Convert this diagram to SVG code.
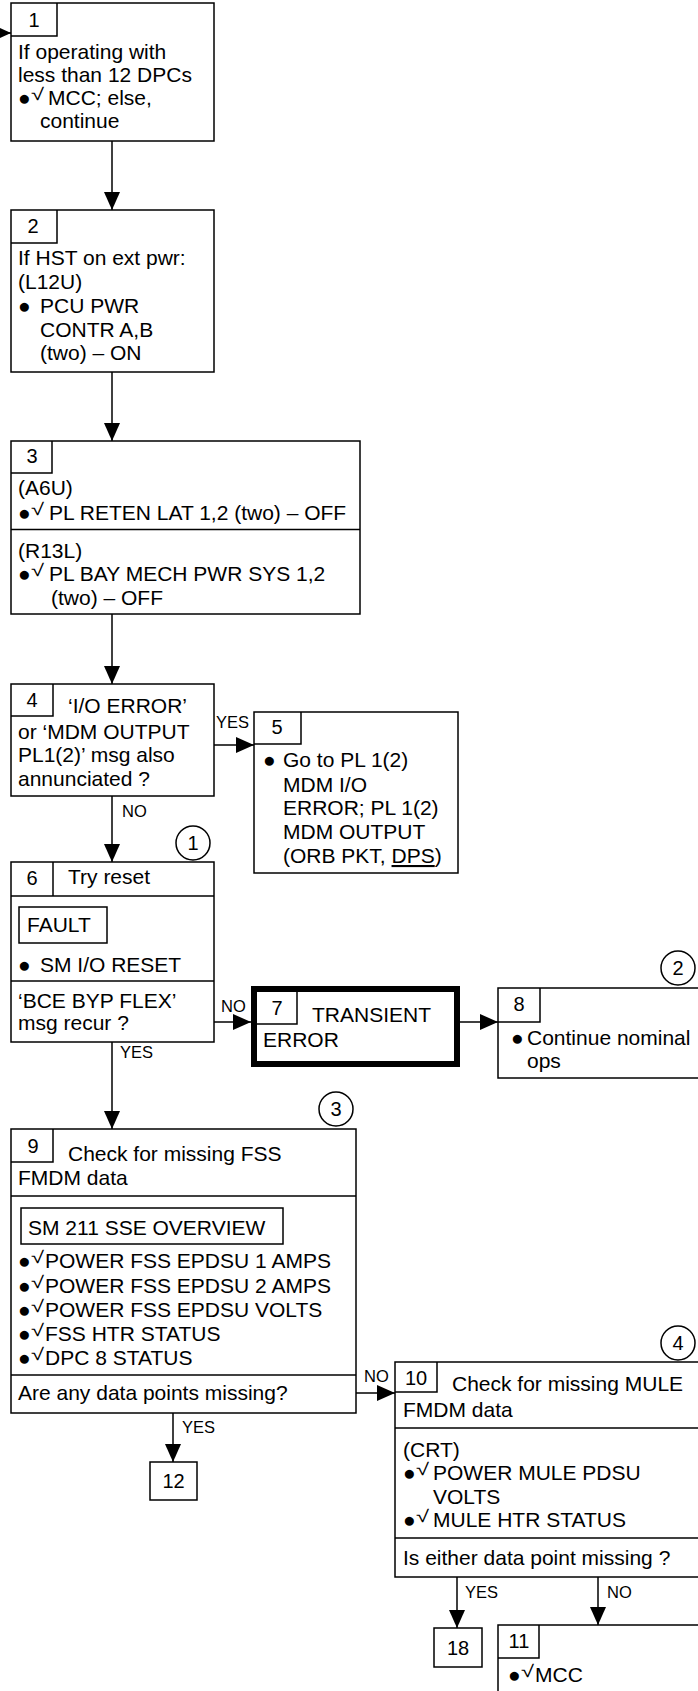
<svg xmlns="http://www.w3.org/2000/svg" width="698" height="1691" viewBox="0 0 698 1691">
<style>
text{font-family:"Liberation Sans",Arial,sans-serif;font-size:21px;fill:#000}
.n{text-anchor:middle;font-size:20px}
.l{font-size:16.5px}
.ck{font-size:17px}
.b{fill:#fff;stroke:#000;stroke-width:1.5}
.s{fill:none;stroke:#000;stroke-width:1.5}
.c{stroke:#000;stroke-width:1.5;fill:none}
</style>
<defs>
<marker id="ah" markerUnits="userSpaceOnUse" markerWidth="18" markerHeight="16" refX="18" refY="8" orient="auto">
<path d="M0,0 L18,8 L0,16 Z" fill="#000"/>
</marker>
</defs>
<g id="connectors">
<line class="c" x1="-20" y1="33" x2="11" y2="33" marker-end="url(#ah)"/>
<line class="c" x1="112" y1="141" x2="112" y2="210" marker-end="url(#ah)"/>
<line class="c" x1="112" y1="372" x2="112" y2="441" marker-end="url(#ah)"/>
<line class="c" x1="112" y1="614" x2="112" y2="684" marker-end="url(#ah)"/>
<line class="c" x1="214" y1="745" x2="254" y2="745" marker-end="url(#ah)"/>
<text class="l" x="216" y="728">YES</text>
<line class="c" x1="112" y1="796" x2="112" y2="862" marker-end="url(#ah)"/>
<text class="l" x="122" y="817">NO</text>
<line class="c" x1="214" y1="1022" x2="251" y2="1022" marker-end="url(#ah)"/>
<text class="l" x="221" y="1012">NO</text>
<line class="c" x1="112" y1="1042" x2="112" y2="1129" marker-end="url(#ah)"/>
<text class="l" x="120" y="1058">YES</text>
<line class="c" x1="460" y1="1022" x2="498" y2="1022" marker-end="url(#ah)"/>
<line class="c" x1="356" y1="1393" x2="395" y2="1393" marker-end="url(#ah)"/>
<text class="l" x="364" y="1382">NO</text>
<line class="c" x1="173" y1="1413" x2="173" y2="1462" marker-end="url(#ah)"/>
<text class="l" x="182" y="1433">YES</text>
<line class="c" x1="457" y1="1577" x2="457" y2="1628" marker-end="url(#ah)"/>
<text class="l" x="465" y="1598">YES</text>
<line class="c" x1="598" y1="1577" x2="598" y2="1625" marker-end="url(#ah)"/>
<text class="l" x="607" y="1598">NO</text>
</g>
<g id="node1">
<rect class="b" x="11" y="3" width="203" height="138"/>
<path class="s" d="M11,36 H57 V3"/>
<text class="n" x="34" y="27">1</text>
<text x="18" y="59">If operating with</text>
<text x="18" y="82">less than 12 DPCs</text>
<text x="18" y="105">●</text>
<text class="ck" transform="translate(31,100) scale(1.4,1)">√</text>
<text x="48" y="105">MCC; else,</text>
<text x="40" y="128">continue</text>
</g>
<g id="node2">
<rect class="b" x="11" y="210" width="203" height="162"/>
<path class="s" d="M11,243 H57 V210"/>
<text class="n" x="33" y="233">2</text>
<text x="18" y="265">If HST on ext pwr:</text>
<text x="18" y="288.5">(L12U)</text>
<text y="312.5"><tspan x="18">●</tspan><tspan x="40">PCU PWR</tspan></text>
<text x="40" y="336.5">CONTR A,B</text>
<text x="40" y="360">(two) – ON</text>
</g>
<g id="node3">
<rect class="b" x="11" y="441" width="349" height="173"/>
<path class="s" d="M11,473 H52 V441"/>
<line class="s" x1="11" y1="529.5" x2="360" y2="529.5"/>
<text class="n" x="32" y="463">3</text>
<text x="18" y="495">(A6U)</text>
<text x="18" y="520">●</text>
<text class="ck" transform="translate(31,515) scale(1.4,1)">√</text>
<text x="49" y="520">PL RETEN LAT 1,2 (two) – OFF</text>
<text x="18" y="558">(R13L)</text>
<text x="18" y="581">●</text>
<text class="ck" transform="translate(31,576) scale(1.4,1)">√</text>
<text x="49" y="581">PL BAY MECH PWR SYS 1,2</text>
<text x="51" y="605">(two) – OFF</text>
</g>
<g id="node4">
<rect class="b" x="11" y="684" width="203" height="112"/>
<path class="s" d="M11,716 H53 V684"/>
<text class="n" x="32" y="707">4</text>
<text x="68" y="713">‘I/O ERROR’</text>
<text x="18" y="739">or ‘MDM OUTPUT</text>
<text x="18" y="762">PL1(2)’ msg also</text>
<text x="18" y="786">annunciated ?</text>
</g>
<g id="node5">
<rect class="b" x="254" y="712" width="204" height="161"/>
<path class="s" d="M254,744 H301 V712"/>
<text class="n" x="277" y="734">5</text>
<text y="767"><tspan x="263">●</tspan><tspan x="283">Go to PL 1(2)</tspan></text>
<text x="283" y="791.5">MDM I/O</text>
<text x="283" y="815">ERROR; PL 1(2)</text>
<text x="283" y="839">MDM OUTPUT</text>
<text x="283" y="863">(ORB PKT, <tspan text-decoration="underline">DPS</tspan>)</text>
</g>
<g id="node6">
<rect class="b" x="11" y="862" width="203" height="180"/>
<line class="s" x1="53" y1="862" x2="53" y2="896"/>
<line class="s" x1="11" y1="896" x2="214" y2="896"/>
<line class="s" x1="11" y1="981" x2="214" y2="981"/>
<text class="n" x="32" y="885">6</text>
<text x="68" y="884">Try reset</text>
<rect class="s" x="19" y="907" width="88" height="36"/>
<text x="27" y="932">FAULT</text>
<text y="972"><tspan x="18">●</tspan><tspan x="40">SM I/O RESET</tspan></text>
<text x="18" y="1008">‘BCE BYP FLEX’</text>
<text x="18" y="1030">msg recur ?</text>
<circle class="b" cx="193" cy="843" r="17"/>
<text class="n" x="193" y="850">1</text>
</g>
<g id="node7">
<rect x="254" y="989" width="203" height="75" fill="#fff" stroke="#000" stroke-width="6"/>
<path class="s" d="M257,1024 H297 V992"/>
<text class="n" x="277" y="1015">7</text>
<text x="312" y="1022">TRANSIENT</text>
<text x="263" y="1047">ERROR</text>
</g>
<g id="node8">
<rect class="b" x="498" y="988" width="240" height="90"/>
<path class="s" d="M498,1022 H540 V988"/>
<text class="n" x="519" y="1011">8</text>
<text y="1045"><tspan x="511">●</tspan><tspan x="527">Continue nominal</tspan></text>
<text x="527" y="1068">ops</text>
<circle class="b" cx="678" cy="968" r="17"/>
<text class="n" x="678" y="975">2</text>
</g>
<g id="node9">
<rect class="b" x="11" y="1129" width="345" height="284"/>
<path class="s" d="M11,1162 H53 V1129"/>
<line class="s" x1="11" y1="1196" x2="356" y2="1196"/>
<line class="s" x1="11" y1="1375" x2="356" y2="1375"/>
<text class="n" x="33" y="1153">9</text>
<text x="68" y="1161">Check for missing FSS</text>
<text x="18" y="1185">FMDM data</text>
<rect class="s" x="21" y="1208" width="262" height="36"/>
<text x="28" y="1235">SM 211 SSE OVERVIEW</text>
<text x="18" y="1268">●</text>
<text class="ck" transform="translate(31,1263) scale(1.4,1)">√</text>
<text x="45" y="1268">POWER FSS EPDSU 1 AMPS</text>
<text x="18" y="1292.5">●</text>
<text class="ck" transform="translate(31,1287.5) scale(1.4,1)">√</text>
<text x="45" y="1292.5">POWER FSS EPDSU 2 AMPS</text>
<text x="18" y="1316.5">●</text>
<text class="ck" transform="translate(31,1311.5) scale(1.4,1)">√</text>
<text x="45" y="1316.5">POWER FSS EPDSU VOLTS</text>
<text x="18" y="1340.5">●</text>
<text class="ck" transform="translate(31,1335.5) scale(1.4,1)">√</text>
<text x="45" y="1340.5">FSS HTR STATUS</text>
<text x="18" y="1365">●</text>
<text class="ck" transform="translate(31,1360) scale(1.4,1)">√</text>
<text x="45" y="1365">DPC 8 STATUS</text>
<text x="18" y="1400">Are any data points missing?</text>
<circle class="b" cx="336" cy="1109" r="17"/>
<text class="n" x="336" y="1116">3</text>
</g>
<g id="node12">
<rect class="b" x="150" y="1462" width="47" height="38"/>
<text class="n" x="173.5" y="1488">12</text>
</g>
<g id="node10">
<rect class="b" x="395" y="1362" width="340" height="215"/>
<path class="s" d="M395,1392 H437 V1362"/>
<line class="s" x1="395" y1="1428" x2="735" y2="1428"/>
<line class="s" x1="395" y1="1538" x2="735" y2="1538"/>
<text class="n" x="416" y="1385">10</text>
<text x="452" y="1391">Check for missing MULE</text>
<text x="403" y="1417">FMDM data</text>
<text x="403" y="1457">(CRT)</text>
<text x="403" y="1480">●</text>
<text class="ck" transform="translate(416,1475) scale(1.4,1)">√</text>
<text x="433" y="1480">POWER MULE PDSU</text>
<text x="433" y="1504">VOLTS</text>
<text x="403" y="1527">●</text>
<text class="ck" transform="translate(416,1522) scale(1.4,1)">√</text>
<text x="433" y="1527">MULE HTR STATUS</text>
<text x="403" y="1565">Is either data point missing ?</text>
<circle class="b" cx="678" cy="1343" r="17"/>
<text class="n" x="678" y="1350">4</text>
</g>
<g id="node18">
<rect class="b" x="434" y="1628" width="48" height="39"/>
<text class="n" x="458" y="1655">18</text>
</g>
<g id="node11">
<rect class="b" x="498" y="1625" width="240" height="100"/>
<path class="s" d="M498,1658 H539 V1625"/>
<text class="n" x="519" y="1648">11</text>
<text x="508" y="1682">●</text>
<text class="ck" transform="translate(521,1677) scale(1.4,1)">√</text>
<text x="535" y="1682">MCC</text>
</g>
</svg>
